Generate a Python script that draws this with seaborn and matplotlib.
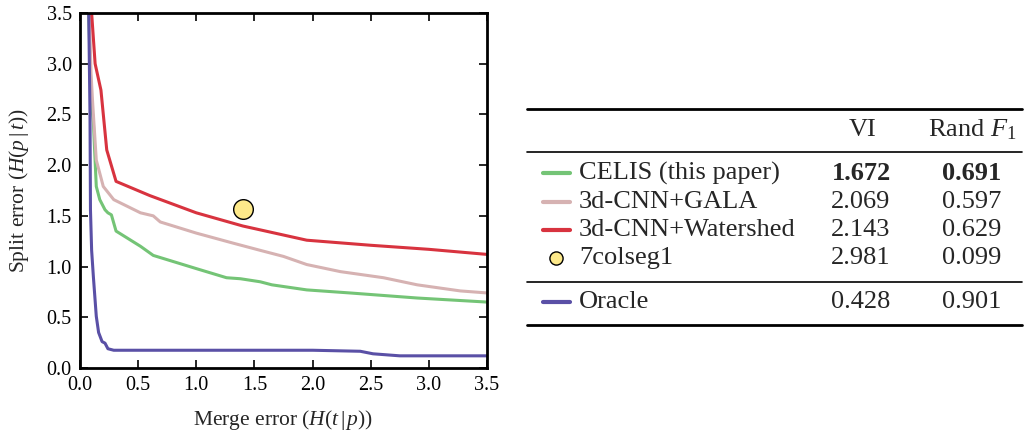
import matplotlib
matplotlib.use("Agg")
import matplotlib.pyplot as plt
import seaborn as sns
import pandas as pd

# curve data (merge error, split error)
celis_x = [0.075, 0.09, 0.10, 0.115, 0.14, 0.17, 0.215, 0.24, 0.27, 0.29, 0.31, 0.45, 0.52,
           0.63, 1.0, 1.26, 1.38, 1.55, 1.65, 1.95, 2.32, 2.9, 3.5]
celis_y = [3.5, 2.9, 2.6, 2.42, 1.79, 1.66, 1.56, 1.53, 1.51, 1.43, 1.35, 1.25, 1.20,
           1.11, 0.98, 0.89, 0.88, 0.85, 0.82, 0.77, 0.74, 0.69, 0.65]

gala_x = [0.08, 0.095, 0.109, 0.14, 0.2, 0.29, 0.52, 0.63, 0.69, 1.0, 1.32, 1.55,
          1.75, 1.95, 2.24, 2.61, 2.9, 3.27, 3.5]
gala_y = [3.5, 2.9, 2.61, 2.05, 1.79, 1.66, 1.53, 1.50, 1.44, 1.33, 1.23, 1.16,
          1.10, 1.02, 0.95, 0.89, 0.82, 0.76, 0.74]

ws_x = [0.10, 0.13, 0.18, 0.23, 0.31, 0.6, 1.0, 1.4, 1.95, 2.5, 3.0, 3.5]
ws_y = [3.5, 3.0, 2.74, 2.15, 1.84, 1.70, 1.53, 1.40, 1.26, 1.21, 1.17, 1.12]

oracle_x = [0.075, 0.086, 0.09, 0.10, 0.115, 0.14, 0.16, 0.19, 0.215, 0.24, 0.29,
            1.0, 2.0, 2.41, 2.52, 2.75, 3.5]
oracle_y = [3.5, 2.5, 1.56, 1.16, 0.9, 0.51, 0.35, 0.26, 0.245, 0.19, 0.175,
            0.175, 0.175, 0.165, 0.14, 0.12, 0.12]

colseg_x = [1.40]
colseg_y = [1.57]

methods = ["CELIS (this paper)", "3d-CNN+GALA", "3d-CNN+Watershed", "7colseg1", "Oracle"]
vi = ["1.672", "2.069", "2.143", "2.981", "0.428"]
rand_f1 = ["0.691", "0.597", "0.629", "0.099", "0.901"]
colors = ["#74c476", "#d6b2b2", "#d8333f", "#fde98a", "#5a50a6"]

sns.set_theme(style="ticks")
plt.rcParams['font.family'] = ['Liberation Serif', 'DejaVu Serif']
plt.rcParams['mathtext.fontset'] = 'custom'
plt.rcParams['mathtext.rm'] = 'Liberation Serif'
plt.rcParams['mathtext.it'] = 'Liberation Serif:italic'
plt.rcParams['mathtext.bf'] = 'Liberation Serif:bold'

fig = plt.figure(figsize=(10.25, 4.33), dpi=100, facecolor='white')
ax = fig.add_axes([80 / 1025, 1 - 368 / 433, 407 / 1025, 355 / 433])

curves = [(celis_x, celis_y), (gala_x, gala_y), (ws_x, ws_y), (oracle_x, oracle_y)]
for (xs, ys), c in zip(curves, [colors[0], colors[1], colors[2], colors[4]]):
    df = pd.DataFrame({"x": xs, "y": ys})
    sns.lineplot(data=df, x="x", y="y", ax=ax, color=c, linewidth=2.2, sort=False,
                 estimator=None)

sns.scatterplot(x=colseg_x, y=colseg_y, ax=ax, s=200, color=colors[3],
                edgecolor='black', linewidth=1, zorder=5)

ax.set_xlim(0, 3.5)
ax.set_ylim(0, 3.5)
ticks = [0.0, 0.5, 1.0, 1.5, 2.0, 2.5, 3.0, 3.5]
ax.set_xticks(ticks)
ax.set_yticks(ticks)
ax.set_xticklabels([f"{t:.1f}" for t in ticks])
ax.set_yticklabels([f"{t:.1f}" for t in ticks])
ax.tick_params(direction='in', length=6, width=1.2, top=True, right=True,
               labelsize=14.5, colors='black', pad=6)
for s in ax.spines.values():
    s.set_linewidth(2)
    s.set_color('black')
ax.set_xlabel(r"Merge error ($H(t\,|\,p)$)", fontsize=15.5, labelpad=9)
ax.set_ylabel(r"Split error ($H(p\,|\,t)$)", fontsize=15.5, labelpad=11)

# table on the right
tab = fig.add_axes([0, 0, 1, 1])
tab.set_xlim(0, 1025)
tab.set_ylim(433, 0)
tab.axis('off')

fs = 19
x0, x1 = 527, 1022
for yy, lw in [(109, 2), (151.7, 1.2), (281.7, 1.2), (325, 2)]:
    tab.plot([x0, x1], [yy, yy], color='black', linewidth=lw)

tab.text(863, 130, "VI", ha='center', va='center', fontsize=fs)
tab.text(972, 130, r"Rand $F_1$", ha='center', va='center', fontsize=fs)

rows_y = [173, 201.7, 230, 258, 301.7]
for i, (name, v, r, c, yy) in enumerate(zip(methods, vi, rand_f1, colors, rows_y)):
    if name == "7colseg1":
        tab.scatter([556], [yy], s=90, color=c, edgecolor='black', linewidth=1)
    else:
        tab.plot([543, 570], [yy, yy], color=c, linewidth=3)
    tab.text(579, yy, name, ha='left', va='center', fontsize=fs)
    w = 'bold' if i == 0 else 'normal'
    tab.text(861, yy, v, ha='center', va='center', fontsize=fs, fontweight=w)
    tab.text(972, yy, r, ha='center', va='center', fontsize=fs, fontweight=w)

fig.savefig("out.png", dpi=100, facecolor='white')
